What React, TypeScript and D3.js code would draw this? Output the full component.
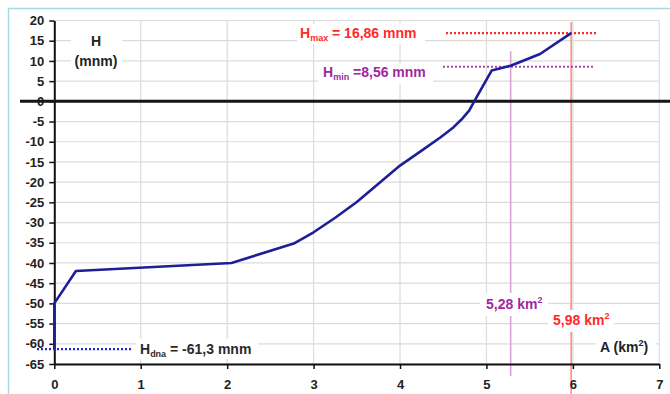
import * as d3 from "d3";
import { useRef, useEffect } from "react";

// hypsographic curve: area (km2) vs elevation (mnm)
const areaKm2 = [0, 0, 0.25, 2.05, 2.77, 3.0, 3.25, 3.5, 3.75, 4.0, 4.25, 4.47, 4.62, 4.72, 4.8, 4.87, 5.06, 5.28, 5.62, 5.98];
const levelMnm = [-61.3, -50, -42, -40, -35.2, -32.4, -28.8, -24.9, -20.4, -15.9, -12.2, -8.9, -6.4, -4.3, -2.3, 0.4, 7.6, 8.8, 11.7, 16.86];

const xTicks = [0, 1, 2, 3, 4, 5, 6, 7];
const yTicks = [20, 15, 10, 5, 0, -5, -10, -15, -20, -25, -30, -35, -40, -45, -50, -55, -60, -65];

const H_MAX = 16.86;
const H_MIN = 8.56;
const H_DNA = -61.3;
const A_MAX = 5.98;
const A_MIN = 5.28;

const FONT = "'Liberation Sans', Arial, sans-serif";
const RED = "#ff2a2a";
const PURPLE = "#a0289f";
const NAVY = "#1e1e96";
const GRID = "#dcdcdc";

export default function App() {
  const width = 670;
  const height = 394;
  const marginLeft = 54.3;
  const marginRight = 10.7;
  const marginTop = 20.5;
  const marginBottom = 30;

  const gx = useRef<SVGGElement>(null);
  const gy = useRef<SVGGElement>(null);

  const x = d3.scaleLinear([0, 7], [marginLeft, width - marginRight]);
  const y = d3.scaleLinear([-65, 20], [height - marginBottom, marginTop]);
  const line = d3.line<number>((d, i) => x(areaKm2[i]), (d) => y(d));

  useEffect(() => {
    const g = d3.select(gx.current!);
    g.call(d3.axisBottom(x).tickValues(xTicks).tickFormat((d) => String(d)).tickSize(5).tickSizeOuter(0).tickPadding(11));
    g.select(".domain").attr("stroke", "#111").attr("stroke-width", 2);
    g.selectAll(".tick line").attr("stroke", "#111").attr("stroke-width", 1.5);
    g.selectAll("text").attr("font-family", FONT).attr("font-size", 13).attr("font-weight", "bold").attr("fill", "#222");
  }, [x]);

  useEffect(() => {
    const g = d3.select(gy.current!);
    g.call(d3.axisLeft(y).tickValues(yTicks).tickFormat((d) => String(d)).tickSize(5).tickSizeOuter(0).tickPadding(5));
    g.select(".domain").attr("stroke", "#111").attr("stroke-width", 2);
    g.selectAll(".tick line").attr("stroke", "#111").attr("stroke-width", 1.5);
    g.selectAll("text").attr("font-family", FONT).attr("font-size", 13).attr("font-weight", "bold").attr("fill", "#222");
  }, [y]);

  const [x0, x1] = x.range();
  const [yb, yt] = y.range();

  return (
    <svg width={width} height={height} style={{ position: "absolute", left: 0, top: 0 }} fontFamily={FONT}>
      <rect width={width} height={height} fill="white" />
      {/* frame */}
      <line x1={8.5} x2={8.5} y1={8} y2={height} stroke="#a6d9e2" strokeWidth={1.5} />
      <line x1={8} x2={width} y1={8.5} y2={8.5} stroke="#a6d9e2" strokeWidth={1.5} />

      {/* grid */}
      <g stroke={GRID} strokeWidth={1.2}>
        {yTicks.map((t) => (
          <line key={"h" + t} x1={x0} x2={x1} y1={y(t)} y2={y(t)} />
        ))}
        {xTicks.slice(1).map((t) => (
          <line key={"v" + t} x1={x(t)} x2={x(t)} y1={yt} y2={yb} />
        ))}
      </g>

      {/* reference verticals */}
      <line x1={x(A_MIN)} x2={x(A_MIN)} y1={y(12.4)} y2={376} stroke="#dba3db" strokeWidth={1.6} />
      <line x1={x(A_MAX)} x2={x(A_MAX)} y1={22} y2={height} stroke="#ff8c8c" strokeWidth={1.6} />

      {/* white boxes behind labels */}
      <g fill="white">
        <rect x={71} y={30} width={51} height={42} />
        <rect x={297} y={24} width={128} height={20} />
        <rect x={318} y={64} width={115} height={20} />
        <rect x={136} y={339} width={122} height={20} />
        <rect x={480} y={293} width={68} height={23} />
        <rect x={548} y={310} width={66} height={22} />
        <rect x={596} y={337} width={60} height={20} />
      </g>

      <g ref={gx} transform={`translate(0,${yb})`} />
      <g ref={gy} transform={`translate(${x0},0)`} />

      {/* zero line */}
      <line x1={20} x2={width} y1={y(0)} y2={y(0)} stroke="#151515" strokeWidth={3} />

      {/* dotted level lines */}
      <g strokeWidth={2.2} strokeDasharray="2 2" fill="none">
        <line x1={446} x2={597} y1={y(H_MAX)} y2={y(H_MAX)} stroke={RED} />
        <line x1={443} x2={593} y1={y(H_MIN)} y2={y(H_MIN)} stroke="#b040b0" />
        <line x1={37} x2={132} y1={y(H_DNA)} y2={y(H_DNA)} stroke="#2828c8" />
      </g>

      {/* curve */}
      <path d={line(levelMnm) ?? ""} fill="none" stroke={NAVY} strokeWidth={2.6} strokeLinejoin="round" />

      {/* labels */}
      <g fontWeight="bold" fontSize={14}>
        <text x={96} y={46} textAnchor="middle" fill="#222">H</text>
        <text x={96} y={66} textAnchor="middle" fill="#222">(mnm)</text>

        <text x={300} y={38} fill={RED}>
          H<tspan fontSize={9} dy={3}>max</tspan>
          <tspan dy={-3}> = 16,86 mnm</tspan>
        </text>
        <text x={323} y={77} fill={PURPLE}>
          H<tspan fontSize={9} dy={3}>min</tspan>
          <tspan dy={-3}> =8,56 mnm</tspan>
        </text>
        <text x={140} y={354} fill="#2a2a2a">
          H<tspan fontSize={9} dy={3}>dna</tspan>
          <tspan dy={-3}> = -61,3 mnm</tspan>
        </text>

        <text x={486} y={309} fill={PURPLE}>
          5,28 km<tspan fontSize={9} dy={-6}>2</tspan>
        </text>
        <text x={553} y={325} fill={RED}>
          5,98 km<tspan fontSize={9} dy={-6}>2</tspan>
        </text>
        <text x={600} y={352} fill="#222">
          A (km<tspan fontSize={9} dy={-6}>2</tspan>
          <tspan dy={6}>)</tspan>
        </text>
      </g>
    </svg>
  );
}
